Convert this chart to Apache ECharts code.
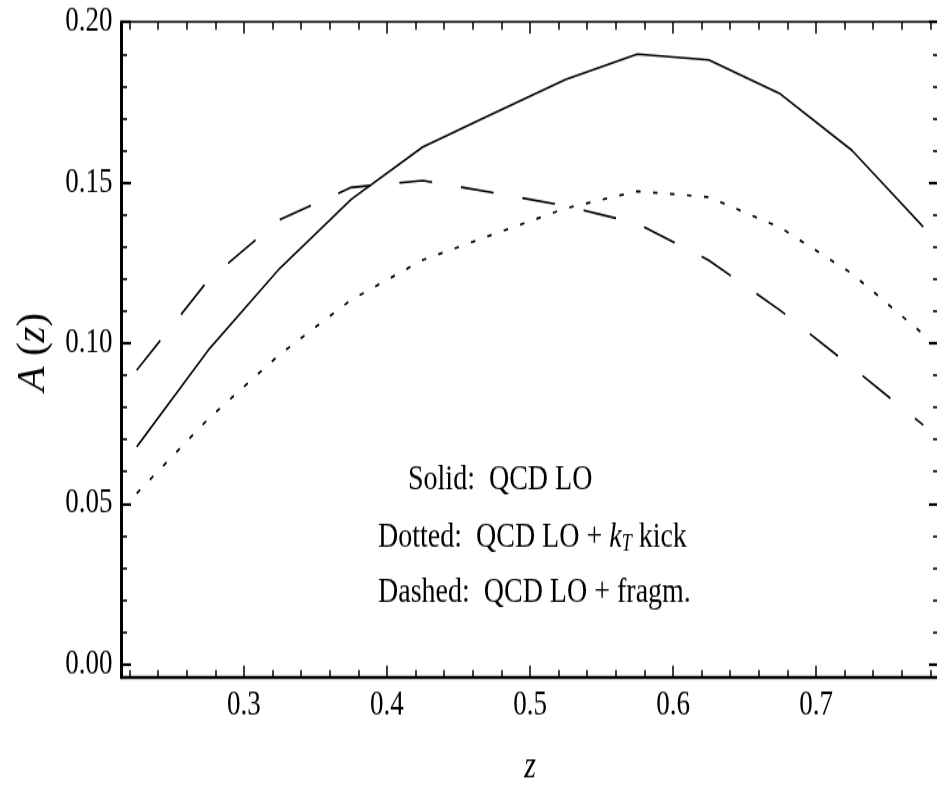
<!DOCTYPE html>
<html>
<head>
<meta charset="utf-8">
<script src="https://cdn.jsdelivr.net/npm/echarts@6/dist/echarts.min.js"></script>
<style>
html,body{margin:0;padding:0;background:#fff;overflow:hidden;}
#wrap{width:937px;height:785px;overflow:hidden;}
#c{width:937px;height:613px;transform:scaleY(1.2806);transform-origin:0 0;}
</style>
</head>
<body>
<div id="wrap"><div id="c"></div></div>
<script>
// ---- data ----
const zValues    = [0.225, 0.275, 0.325, 0.375, 0.425, 0.475, 0.525, 0.575, 0.625, 0.675, 0.725, 0.775];
const solidLO    = [0.0677, 0.0978, 0.1233, 0.1448, 0.1611, 0.1717, 0.1821, 0.1900, 0.1882, 0.1776, 0.1601, 0.1362];
const dottedKT   = [0.0532, 0.0764, 0.0965, 0.1135, 0.1259, 0.1340, 0.1420, 0.1473, 0.1455, 0.1360, 0.1217, 0.1028];
const dashedFrag = [0.0916, 0.1196, 0.1385, 0.1485, 0.1506, 0.1468, 0.1427, 0.1373, 0.1258, 0.1102, 0.0926, 0.0745];

const xMajorTicks = [0.3, 0.4, 0.5, 0.6, 0.7];
const xMinorTicks = [0.22, 0.24, 0.26, 0.28, 0.32, 0.34, 0.36, 0.38, 0.42, 0.44, 0.46, 0.48,
                     0.52, 0.54, 0.56, 0.58, 0.62, 0.64, 0.66, 0.68, 0.72, 0.74, 0.76, 0.78];
const yMajorTicks = [0.00, 0.05, 0.10, 0.15, 0.20];
const yMinorTicks = [0.01, 0.02, 0.03, 0.04, 0.06, 0.07, 0.08, 0.09, 0.11, 0.12, 0.13, 0.14,
                     0.16, 0.17, 0.18, 0.19];

const xRange = [0.214, 0.786];
const yRange = [-0.004, 0.20];

const xTitle = 'z';
const yTitle = '{i|A} {n|(}{i|z}{n|)}';
const legendLines = [
  {x: 408, y: 377.5, text: '{n|Solid:  QCD LO}'},
  {x: 378, y: 423, text: '{n|Dotted:  QCD LO + }{i|k}{s|T}{n| kick}'},
  {x: 378, y: 465.5, text: '{n|Dashed:  QCD LO + fragm.}'}
];

// ---- chart ----
const STRETCH = 1.2806;
const FONT = 'Liberation Serif';
const chart = echarts.init(document.getElementById('c'), null, {renderer: 'canvas'});

function pairs(ys){ return zValues.map((z, i) => [z, ys[i]]); }

function xAx(pos, ticks, len, showLabel, lineW){
  return {
    type: 'value', position: pos, min: xRange[0], max: xRange[1],
    axisLine: {show: lineW > 0, onZero: false, lineStyle: {color: '#000', width: lineW}},
    axisTick: {show: true, inside: true, length: len, customValues: ticks, lineStyle: {color: '#000', width: 1.5}},
    axisLabel: {show: showLabel, customValues: ticks, formatter: v => v.toFixed(1), color: '#000',
                fontFamily: FONT, fontSize: 27, margin: 8.5},
    splitLine: {show: false}
  };
}
function yAx(pos, ticks, len, showLabel, lineW, tw){
  return {
    type: 'value', position: pos, min: yRange[0], max: yRange[1],
    axisLine: {show: lineW > 0, onZero: false, lineStyle: {color: '#000', width: lineW}},
    axisTick: {show: true, inside: true, length: len, customValues: ticks, lineStyle: {color: '#000', width: tw}},
    axisLabel: {show: showLabel, customValues: ticks, formatter: v => v.toFixed(2), color: '#000',
                fontFamily: FONT, fontSize: 27, margin: 8.5},
    splitLine: {show: false}
  };
}

const xBottom = xAx('bottom', xMajorTicks, 9, true, 2.4);
xBottom.name = xTitle;
xBottom.nameLocation = 'middle';
xBottom.nameGap = 55;
xBottom.nameTextStyle = {fontFamily: FONT, fontSize: 30, fontStyle: 'italic', color: '#000'};

const richBase = {
  n: {fontFamily: FONT, fontSize: 28, lineHeight: 34, verticalAlign: 'bottom', color: '#000'},
  i: {fontFamily: FONT, fontSize: 28, lineHeight: 34, verticalAlign: 'bottom', fontStyle: 'italic', color: '#000'},
  s: {fontFamily: FONT, fontSize: 18, lineHeight: 16, verticalAlign: 'bottom', fontStyle: 'italic', color: '#000'}
};

const option = {
  animation: false,
  backgroundColor: '#fff',
  grid: {left: 121, right: -2, top: 17.2, bottom: 84.3, containLabel: false, outerBoundsMode: 'none'},
  xAxis: [
    xBottom,
    xAx('bottom', xMinorTicks, 5.5, false, 0),
    xAx('top', xMajorTicks, 9, false, 1.5),
    xAx('top', xMinorTicks, 6, false, 0)
  ],
  yAxis: [
    yAx('left', yMajorTicks, 10, true, 3, 2.2),
    yAx('left', yMinorTicks, 6, false, 0, 1.6),
    yAx('right', yMajorTicks, 10, false, 1.5, 2.2),
    yAx('right', yMinorTicks, 6, false, 0, 1.6)
  ],
  series: [
    {name: 'Solid', type: 'line', xAxisIndex: 0, yAxisIndex: 0, data: pairs(solidLO),
     showSymbol: false, symbol: 'none', lineStyle: {color: '#000', width: 1.6, type: 'solid'}},
    {name: 'Dotted', type: 'line', xAxisIndex: 0, yAxisIndex: 0, data: pairs(dottedKT),
     showSymbol: false, symbol: 'none', lineStyle: {color: '#000', width: 1.7, type: [4.5, 12.5]}},
    {name: 'Dashed', type: 'line', xAxisIndex: 0, yAxisIndex: 0, data: pairs(dashedFrag),
     showSymbol: false, symbol: 'none', lineStyle: {color: '#000', width: 1.6, type: [33, 29]}}
  ],
  graphic: legendLines.map(l => ({
    type: 'text', left: l.x, top: l.y - 17, z: 100,
    style: {text: l.text, fill: '#000', fontFamily: FONT, fontSize: 28, rich: richBase}
  })).concat([{
    // y-axis title, rotated; counter-scaled so the page stretch leaves it undistorted
    type: 'text', x: 33, y: 275, rotation: Math.PI / 2, scaleX: 1 / STRETCH, z: 100,
    style: {
      text: yTitle, fill: '#000', fontFamily: FONT, fontSize: 41, align: 'center', verticalAlign: 'middle',
      rich: {
        i: {fontFamily: FONT, fontSize: 41, fontStyle: 'italic', color: '#000'},
        n: {fontFamily: FONT, fontSize: 41, color: '#000'}
      }
    }
  }])
};
chart.setOption(option);
</script>
</body>
</html>
